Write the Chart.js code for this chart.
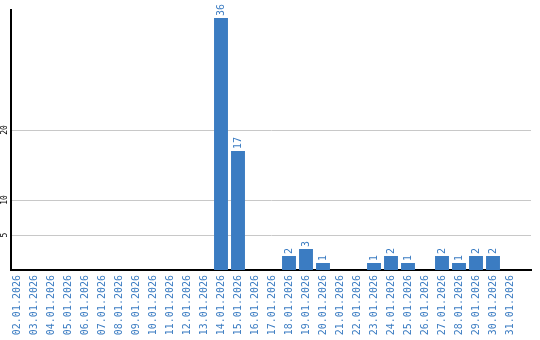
<!DOCTYPE html>
<html>
<head>
<meta charset="utf-8">
<script src="https://cdn.jsdelivr.net/npm/chart.js@4/dist/chart.umd.min.js"></script>
<style>
  body { margin: 0; background: #fff; }
</style>
</head>
<body>
<canvas id="chart" width="540" height="340"></canvas>
<script>
// days of January 2026
const days = ['02.01.2026', '03.01.2026', '04.01.2026', '05.01.2026', '06.01.2026', '07.01.2026',
  '08.01.2026', '09.01.2026', '10.01.2026', '11.01.2026', '12.01.2026', '13.01.2026', '14.01.2026',
  '15.01.2026', '16.01.2026', '17.01.2026', '18.01.2026', '19.01.2026', '20.01.2026', '21.01.2026',
  '22.01.2026', '23.01.2026', '24.01.2026', '25.01.2026', '26.01.2026', '27.01.2026', '28.01.2026',
  '29.01.2026', '30.01.2026', '31.01.2026'];
const counts = [0, 0, 0, 0, 0, 0, 0, 0, 0, 0, 0, 0, 36, 17, 0, 0, 2, 3, 1, 0, 0, 1, 2, 1, 0, 2, 1, 2, 2, 0];
const yTicks = [5, 10, 20];

const blue = '#3b7cc2';
const mono = "'DejaVu Sans Mono', monospace";
const plotLeft = 11, plotWidth = 520; // chart area in px
const slot = 17;        // px per day
const firstCenter = 17; // px, centre of the first day

// value labels on top of bars, rotated
const barLabels = {
  id: 'barLabels',
  afterDatasetsDraw(chart) {
    const ctx = chart.ctx;
    const meta = chart.getDatasetMeta(0);
    ctx.save();
    ctx.fillStyle = blue;
    ctx.font = '10px ' + mono;
    ctx.textAlign = 'left';
    ctx.textBaseline = 'middle';
    meta.data.forEach((bar, i) => {
      if (!counts[i]) return;
      ctx.save();
      ctx.translate(bar.x, bar.y - 2);
      ctx.rotate(-Math.PI / 2);
      ctx.fillText(String(counts[i]), 0, 0);
      ctx.restore();
    });
    ctx.restore();
  }
};

// rotated y tick labels
const yLabels = {
  id: 'yLabels',
  afterDraw(chart) {
    const ctx = chart.ctx;
    const y = chart.scales.y;
    ctx.save();
    ctx.fillStyle = '#000';
    ctx.font = '8px ' + mono;
    ctx.textAlign = 'center';
    ctx.textBaseline = 'middle';
    yTicks.forEach(v => {
      ctx.save();
      ctx.translate(4.5, y.getPixelForValue(v));
      ctx.rotate(-Math.PI / 2);
      ctx.fillText(String(v), 0, 0);
      ctx.restore();
    });
    ctx.restore();
  }
};

new Chart(document.getElementById('chart'), {
  type: 'bar',
  data: {
    labels: days,
    datasets: [{
      data: counts,
      backgroundColor: blue,
      barPercentage: 0.82,
      categoryPercentage: 1
    }]
  },
  options: {
    responsive: false,
    animation: false,
    layout: { padding: { left: plotLeft, top: 10, right: 540 - plotLeft - plotWidth, bottom: 0 } },
    plugins: {
      legend: { display: false },
      tooltip: { enabled: false }
    },
    scales: {
      x: {
        grid: { display: false, drawTicks: false },
        border: { color: '#000', width: 2 },
        afterFit: scale => { scale.height = 70; },
        afterBuildTicks: scale => {
          scale._valueRange = plotWidth / slot;
          scale._startValue = -(firstCenter - plotLeft) / slot;
        },
        ticks: {
          color: blue,
          font: { family: mono, size: 10 },
          minRotation: 90,
          maxRotation: 90,
          autoSkip: false,
          padding: 5
        }
      },
      y: {
        min: 0,
        max: 260 / 7,
        afterBuildTicks: scale => { scale.ticks = yTicks.map(v => ({ value: v })); },
        grid: { color: '#c8c8c8', drawTicks: false },
        border: { color: '#000', width: 2 },
        ticks: { display: false }
      }
    }
  },
  plugins: [barLabels, yLabels]
});
</script>
</body>
</html>
